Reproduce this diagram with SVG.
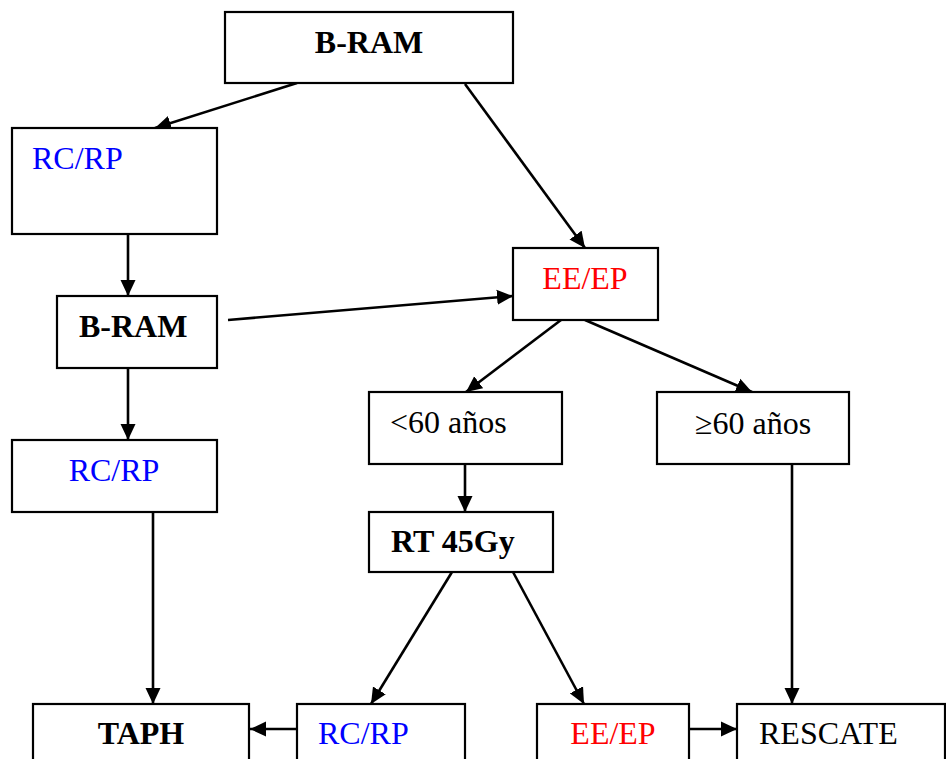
<svg xmlns="http://www.w3.org/2000/svg" width="946" height="759" viewBox="0 0 946 759">
<style>
.box{fill:#fff;stroke:#000;stroke-width:2.2}
.t{font-family:"Liberation Serif","Times New Roman",serif;font-size:32px;fill:#000}
.b{font-weight:bold}
.blue{fill:#0000ff}
.red{fill:#ff0000}
.c{stroke:#000;stroke-width:2.6;fill:none;marker-end:url(#ah)}
</style>
<defs>
<marker id="ah" markerUnits="userSpaceOnUse" markerWidth="16" markerHeight="16" viewBox="0 0 16 15" refX="16" refY="7.5" orient="auto">
<path d="M0,0 L16,7.5 L0,15 z" fill="#000"/>
</marker>
</defs>
<rect width="946" height="759" fill="#fff"/>
<g id="connectors">
<line class="c" x1="297" y1="83" x2="155" y2="128"/>
<line class="c" x1="465" y1="84" x2="585" y2="248"/>
<line class="c" x1="128" y1="234" x2="128" y2="296"/>
<line class="c" x1="228" y1="320" x2="513" y2="296"/>
<line class="c" x1="128" y1="368" x2="128" y2="440"/>
<line class="c" x1="561" y1="320" x2="466" y2="392"/>
<line class="c" x1="585" y1="320" x2="752" y2="392"/>
<line class="c" x1="465" y1="464" x2="465" y2="512"/>
<line class="c" x1="153" y1="512" x2="153" y2="704"/>
<line class="c" x1="452" y1="572" x2="371" y2="704"/>
<line class="c" x1="513" y1="572" x2="584" y2="704"/>
<line class="c" x1="792" y1="464" x2="792" y2="704"/>
<line class="c" x1="297" y1="729" x2="250" y2="729"/>
<line class="c" x1="689" y1="729" x2="737" y2="729"/>
</g>
<g id="n1"><rect class="box" x="225" y="12" width="288" height="71"/><text class="t b" x="369" y="53" text-anchor="middle">B-RAM</text></g>
<g id="n2"><rect class="box" x="12" y="128" width="205" height="106"/><text class="t blue" x="32" y="169">RC/RP</text></g>
<g id="n3"><rect class="box" x="513" y="248" width="145" height="72"/><text class="t red" x="585" y="289" text-anchor="middle">EE/EP</text></g>
<g id="n4"><rect class="box" x="57" y="296" width="160" height="72"/><text class="t b" x="79" y="337">B-RAM</text></g>
<g id="n5"><rect class="box" x="369" y="392" width="193" height="72"/><text class="t" x="390" y="433">&lt;60 años</text></g>
<g id="n6"><rect class="box" x="657" y="392" width="192" height="72"/><text class="t" x="753" y="434" text-anchor="middle">≥60 años</text></g>
<g id="n7"><rect class="box" x="12" y="440" width="205" height="72"/><text class="t blue" x="114" y="481" text-anchor="middle">RC/RP</text></g>
<g id="n8"><rect class="box" x="369" y="512" width="184" height="60"/><text class="t b" x="391" y="552">RT 45Gy</text></g>
<g id="n9"><rect class="box" x="33" y="704" width="216" height="70"/><text class="t b" x="141" y="744" text-anchor="middle">TAPH</text></g>
<g id="n10"><rect class="box" x="297" y="704" width="168" height="70"/><text class="t blue" x="318" y="744">RC/RP</text></g>
<g id="n11"><rect class="box" x="537" y="704" width="152" height="70"/><text class="t red" x="613" y="744" text-anchor="middle">EE/EP</text></g>
<g id="n12"><rect class="box" x="737" y="704" width="208" height="70"/><text class="t" x="759" y="744">RESCATE</text></g>
</svg>
